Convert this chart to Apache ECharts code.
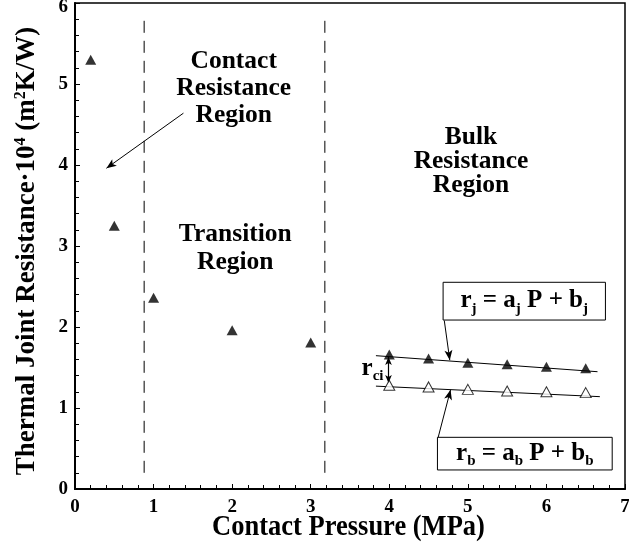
<!DOCTYPE html>
<html><head><meta charset="utf-8">
<script src="https://cdn.jsdelivr.net/npm/echarts@6/dist/echarts.min.js"></script>
<style>html,body{margin:0;padding:0;background:#fff}#c{width:629px;height:546px}</style>
</head><body><div id="c"></div>
<script>
const FONT = '"Liberation Serif","Times New Roman",serif';
// ---- data ----
const xTickLabels = ['0','1','2','3','4','5','6','7'];
const yTickLabels = ['0','1','2','3','4','5','6'];
const contactPressure = [0.2, 0.5, 1.0, 2.0, 3.0];
const contactResistance = [5.3, 3.25, 2.36, 1.96, 1.81];
const bulkPressure = [4.0, 4.5, 5.0, 5.5, 6.0, 6.5];
const jointResistance = [1.66, 1.61, 1.56, 1.54, 1.51, 1.49];
const bulkResistance = [1.28, 1.26, 1.23, 1.21, 1.20, 1.19];
const fitJointP = [3.83, 6.65];
const fitJointR = [1.646, 1.448];
const fitBulkP = [3.83, 6.68];
const fitBulkR = [1.27, 1.14];
const regionBoundaries = [0.88, 3.18];
const boundaryYRange = [0.2, 5.8];
const regionLabels = ['Contact\nResistance\nRegion', 'Transition\nRegion', 'Bulk\nResistance\nRegion'];
const xTitle = 'Contact Pressure (MPa)';

// ---- annotation layout (data coords) ----
const regionLabelPos = [[2.02, 4.95, 27], [2.04, 2.97, 28], [5.04, 4.05, 24]];
const arrows = [
  [[1.38, 4.64], [0.40, 3.96]],
  [[4.70, 2.08], [4.77, 1.59]],
  [[4.62, 0.63], [4.78, 1.225]]
];
const rciArrow = [[3.99, 1.63], [3.99, 1.31]];
const boxJ = [[4.685, 2.552], [6.751, 2.086]];
const boxB = [[4.613, 0.638], [6.837, 0.235]];

const zip = (a, b) => a.map((v, i) => [v, b[i]]);

const chart = echarts.init(document.getElementById('c'), null, {renderer: 'canvas'});

const axisText = {fontFamily: FONT, fontWeight: 'bold', fontSize: 19, color: '#000'};
const big = (extra) => Object.assign({fontFamily: FONT, fontWeight: 'bold', fontSize: 25, color: '#000'}, extra || {});

const boundarySeries = regionBoundaries.map(x => ({
  type: 'line', data: [[x, boundaryYRange[0]], [x, boundaryYRange[1]]],
  symbol: 'none', lineStyle: {color: '#000', width: 1, type: [12, 8]}, z: 1
}));

const option = {
  animation: false,
  backgroundColor: '#fff',
  grid: {left: 75, right: 4, top: 3, bottom: 57, outerBoundsMode: 'none', containLabel: false,
    show: true, borderColor: '#000', borderWidth: 1.5, backgroundColor: 'transparent'},
  xAxis: {
    type: 'value', min: 0, max: 7, interval: 1,
    axisLine: {show: true, lineStyle: {color: '#000', width: 2}},
    axisTick: {show: true, inside: true, length: 5, lineStyle: {color: '#000', width: 1}},
    minorTick: {show: true, splitNumber: 5, length: 4, lineStyle: {color: '#000', width: 1}},
    splitLine: {show: false},
    axisLabel: Object.assign({margin: 9, formatter: v => xTickLabels[Math.round(v)]}, axisText)
  },
  yAxis: {
    type: 'value', min: 0, max: 6, interval: 1,
    axisLine: {show: true, lineStyle: {color: '#000', width: 2}},
    axisTick: {show: true, inside: true, length: 5, lineStyle: {color: '#000', width: 1}},
    minorTick: {show: true, splitNumber: 5, length: 4, lineStyle: {color: '#000', width: 1}},
    splitLine: {show: false},
    axisLabel: Object.assign({margin: 7,
      formatter: v => (Math.round(v) === 6 ? '{t|' + yTickLabels[6] + '}' : yTickLabels[Math.round(v)]),
      rich: {t: Object.assign({padding: [8, 0, 0, 0]}, axisText)}}, axisText)
  },
  series: [
    ...boundarySeries,
    {type: 'line', data: zip(fitJointP, fitJointR), symbol: 'none', lineStyle: {color: '#000', width: 1}, z: 2},
    {type: 'line', data: zip(fitBulkP, fitBulkR), symbol: 'none', lineStyle: {color: '#000', width: 1}, z: 2},
    {type: 'scatter', data: zip(contactPressure, contactResistance), symbol: 'triangle', symbolSize: [11, 10],
      itemStyle: {color: '#000'}, z: 5},
    {type: 'scatter', data: zip(bulkPressure, jointResistance), symbol: 'triangle', symbolSize: [11, 10],
      itemStyle: {color: '#000'}, z: 5},
    {type: 'scatter', data: zip(bulkPressure, bulkResistance), symbol: 'triangle', symbolSize: [11, 10],
      itemStyle: {color: '#fff', borderColor: '#000', borderWidth: 1}, z: 5},
    {type: 'line', data: [], markLine: {
      silent: true, symbol: ['none', 'arrow'], symbolSize: [6, 10], animation: false,
      label: {show: false}, lineStyle: {color: '#000', width: 1, type: 'solid'},
      data: arrows.map(a => [{coord: a[0]}, {coord: a[1]}])
    }},
    {type: 'line', data: [], markLine: {
      silent: true, symbol: ['arrow', 'arrow'], symbolSize: [5, 8], animation: false,
      label: {show: false}, lineStyle: {color: '#000', width: 1.2, type: 'solid'},
      data: [[{coord: rciArrow[0]}, {coord: rciArrow[1]}]]
    }, z: 6}
  ]
};
chart.setOption(option);

const px = p => chart.convertToPixel({gridIndex: 0}, p);
const graphics = [];
regionLabels.forEach((t, i) => {
  const [x, y, lh] = regionLabelPos[i];
  const p = px([x, y]);
  graphics.push({type: 'text', x: p[0], y: p[1], z: 10, style: {
    text: t, fill: '#000', font: 'bold 25.5px ' + FONT, lineHeight: lh, align: 'center', verticalAlign: 'middle'
  }});
});
const eqRich = {
  m: big({lineHeight: 26, verticalAlign: 'top'}),
  s: big({fontSize: 15, padding: [13, 0, 0, 0], verticalAlign: 'bottom'})
};
[[boxJ, '{m|r}{s|j}{m| = a}{s|j}{m| P + b}{s|j}'], [boxB, '{m|r}{s|b}{m| = a}{s|b}{m| P + b}{s|b}']].forEach(([b, txt]) => {
  const p0 = px(b[0]), p1 = px(b[1]);
  graphics.push({type: 'rect', z: 10, shape: {x: p0[0], y: p0[1], width: p1[0] - p0[0], height: p1[1] - p0[1]},
    style: {fill: '#fff', stroke: '#000', lineWidth: 1}});
  graphics.push({type: 'text', z: 11, x: (p0[0] + p1[0]) / 2, y: (p0[1] + p1[1]) / 2 + 1,
    style: {text: txt, rich: eqRich, align: 'center', verticalAlign: 'middle', fill: '#000', font: 'bold 25px ' + FONT}});
});
const rp = px([rciArrow[0][0], (rciArrow[0][1] + rciArrow[1][1]) / 2]);
graphics.push({type: 'text', z: 11, x: rp[0] - 5, y: rp[1],
  style: {text: '{m|r}{s|ci}', rich: eqRich, align: 'right', verticalAlign: 'middle', fill: '#000', font: 'bold 25px ' + FONT}});
// x axis title
graphics.push({type: 'text', z: 11, x: 348.5, y: 527.5, scaleY: 1.1,
  style: {text: xTitle, align: 'center', verticalAlign: 'middle', fill: '#000', font: 'bold 26.5px ' + FONT}});
// y axis title
const yTitleRich = {
  m: big({fontSize: 27, lineHeight: 27, verticalAlign: 'bottom'}),
  p: big({fontSize: 16, padding: [0, 0, 12, 0], verticalAlign: 'top'})
};
graphics.push({type: 'text', z: 11, x: 27, y: 251, rotation: Math.PI / 2,
  style: {text: '{m|Thermal Joint Resistance·10}{p|4}{m| (m}{p|2}{m|K/W)}', rich: yTitleRich,
    align: 'center', verticalAlign: 'middle', fill: '#000', font: 'bold 27px ' + FONT}});
chart.setOption({graphic: graphics});
</script></body></html>
